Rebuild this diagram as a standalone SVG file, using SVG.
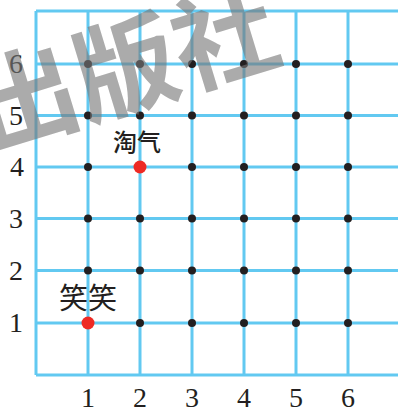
<svg xmlns="http://www.w3.org/2000/svg" width="398" height="414" viewBox="0 0 398 414">
<style>
.g{stroke:#62c9f1;stroke-width:3;fill:none}
.n{font-family:"Liberation Serif",serif;font-size:28px;fill:#231f20;text-anchor:middle}
.d{fill:#231f20}
.r{fill:#ee2a24}
.lbl{font-family:"Noto Sans CJK SC",sans-serif;fill:#231f20;text-anchor:middle}
</style>
<rect width="398" height="414" fill="#fff"/>
<g id="grid" class="g">
<path d="M36,11H398M36,64H398M36,115.5H398M36,167H398M36,218.5H398M36,270.5H398M36,323H398M36,375H398"/>
<path d="M36,11V375M88,11V375M140,11V375M192,11V375M244,11V375M296,11V375M348,11V375"/>
</g>
<g id="y-axis" class="n">
<text x="16" y="73">6</text>
<text x="16" y="124.5">5</text>
<text x="17" y="176">4</text>
<text x="16" y="227.5">3</text>
<text x="16" y="279.5">2</text>
<text x="16" y="332">1</text>
</g>
<g id="x-axis" class="n">
<text x="88" y="407">1</text>
<text x="140" y="407">2</text>
<text x="192" y="407">3</text>
<text x="244" y="407">4</text>
<text x="296" y="407">5</text>
<text x="348" y="407">6</text>
</g>
<g id="dots" class="d">
<circle cx="88" cy="64" r="4"/><circle cx="140" cy="64" r="4"/><circle cx="192" cy="64" r="4"/><circle cx="244" cy="64" r="4"/><circle cx="296" cy="64" r="4"/><circle cx="348" cy="64" r="4"/>
<circle cx="88" cy="115.5" r="4"/><circle cx="140" cy="115.5" r="4"/><circle cx="192" cy="115.5" r="4"/><circle cx="244" cy="115.5" r="4"/><circle cx="296" cy="115.5" r="4"/><circle cx="348" cy="115.5" r="4"/>
<circle cx="88" cy="167" r="4"/><circle cx="192" cy="167" r="4"/><circle cx="244" cy="167" r="4"/><circle cx="296" cy="167" r="4"/><circle cx="348" cy="167" r="4"/>
<circle cx="88" cy="218.5" r="4"/><circle cx="140" cy="218.5" r="4"/><circle cx="192" cy="218.5" r="4"/><circle cx="244" cy="218.5" r="4"/><circle cx="296" cy="218.5" r="4"/><circle cx="348" cy="218.5" r="4"/>
<circle cx="88" cy="270.5" r="4"/><circle cx="140" cy="270.5" r="4"/><circle cx="192" cy="270.5" r="4"/><circle cx="244" cy="270.5" r="4"/><circle cx="296" cy="270.5" r="4"/><circle cx="348" cy="270.5" r="4"/>
<circle cx="140" cy="323" r="4"/><circle cx="192" cy="323" r="4"/><circle cx="244" cy="323" r="4"/><circle cx="296" cy="323" r="4"/><circle cx="348" cy="323" r="4"/>
</g>
<g id="taoqi">
<circle class="r" cx="140" cy="167" r="6.5"/>
<text class="lbl" x="137" y="151" font-size="24" font-weight="500">淘气</text>
</g>
<g id="xiaoxiao">
<circle class="r" cx="88" cy="323" r="6.5"/>
<text class="lbl" x="88" y="309" font-size="29">笑笑</text>
</g>
<g id="watermark">
<text transform="translate(126,70) rotate(-17)" x="0" y="36" font-family="Noto Sans CJK SC,sans-serif" font-size="104" font-weight="700" fill="#777" fill-opacity="0.62" text-anchor="middle">出版社</text>
</g>
</svg>
